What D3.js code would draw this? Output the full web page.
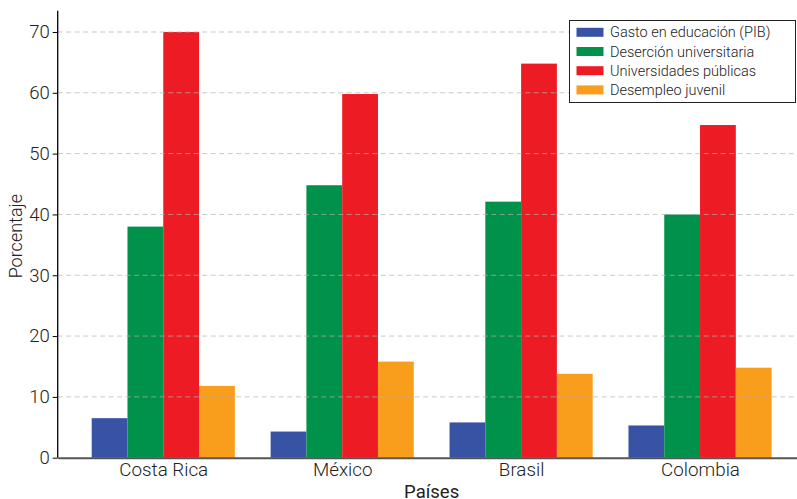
<!DOCTYPE html>
<html>
<head>
<meta charset="utf-8">
<script src="https://cdn.jsdelivr.net/npm/d3@7"></script>
<style>
  html, body { margin: 0; padding: 0; background: #fff; }
  svg { display: block; font-family: Roboto, "Noto Sans", sans-serif; }
</style>
</head>
<body>
<svg id="chart" width="797" height="499"></svg>
<script>
// Indicadores educativos por país (porcentaje)
const countries = ["Costa Rica", "México", "Brasil", "Colombia"];
const seriesNames = ["Gasto en educación (PIB)", "Deserción universitaria", "Universidades públicas", "Desempleo juvenil"];
const gasto = [6.5, 4.3, 5.8, 5.3];
const desercion = [38, 44.8, 42.1, 40];
const publicas = [70, 59.8, 64.8, 54.7];
const desempleo = [11.8, 15.8, 13.8, 14.8];
const seriesColors = ["#3953a4", "#00914a", "#ed1c24", "#f99d1c"];
const yTicks = [0, 10, 20, 30, 40, 50, 60, 70];

const series = [gasto, desercion, publicas, desempleo];

const svg = d3.select("#chart");
const margin = { left: 57.7, top: 10.7, bottom: 41.3 };
const plotRight = 805.6;
const plotBottom = 499 - margin.bottom;

// Numeric x axis: groups at 0..3, bar width 0.2, with a 5% side margin
const x = d3.scaleLinear().domain([-0.59, 3.59]).range([margin.left, plotRight]);
const barW = 0.2;
const y = d3.scaleLinear().domain([0, 73.5]).range([plotBottom, margin.top]);

// Bars
series.forEach((vals, si) => {
  svg.append("g")
    .selectAll("rect")
    .data(vals)
    .join("rect")
    .attr("x", (d, i) => x(i + (si - 1.5) * barW - barW / 2))
    .attr("width", x(barW) - x(0))
    .attr("y", d => y(d))
    .attr("height", d => y(0) - y(d))
    .attr("fill", seriesColors[si]);
});

// Horizontal dashed grid, drawn over the bars
svg.append("g")
  .selectAll("line")
  .data(yTicks.filter(t => t > 0))
  .join("line")
  .attr("x1", margin.left)
  .attr("x2", plotRight)
  .attr("y1", d => y(d))
  .attr("y2", d => y(d))
  .attr("stroke", "#b0b0b0")
  .attr("stroke-opacity", 0.7)
  .attr("stroke-width", 1)
  .attr("stroke-dasharray", "5,3.5");

// Y axis
const yAxis = d3.axisLeft(y).tickValues(yTicks).tickSize(5).tickPadding(3).tickFormat(d3.format("d"));
const gy = svg.append("g").attr("transform", `translate(${margin.left},0)`).call(yAxis);
gy.select(".domain").attr("stroke", "#000").attr("stroke-width", 1.3)
  .attr("d", `M0,${y(0)}V${margin.top}`);
gy.selectAll(".tick line").attr("stroke", "#000").attr("stroke-width", 1);
gy.selectAll(".tick text")
  .attr("font-size", 18.5).attr("font-weight", 300).attr("fill", "#222")
  .attr("font-family", "Roboto, sans-serif");

// X axis
const xAxis = d3.axisBottom(x).tickValues(d3.range(countries.length)).tickSize(0).tickPadding(5)
  .tickFormat(i => countries[i]);
const gx = svg.append("g").attr("transform", `translate(0,${plotBottom})`).call(xAxis);
gx.select(".domain").attr("stroke", "#555").attr("stroke-width", 2);
gx.selectAll(".tick text")
  .attr("font-size", 18.8).attr("font-weight", 300).attr("fill", "#222")
  .attr("font-family", "Roboto, sans-serif");

// Axis titles
svg.append("text")
  .attr("x", x(1.5)).attr("y", 497.5)
  .attr("text-anchor", "middle")
  .attr("font-size", 18.5).attr("font-weight", 400).attr("fill", "#222")
  .text("Países");

svg.append("text")
  .attr("transform", `translate(22,${(margin.top + plotBottom) / 2 + 2}) rotate(-90)`)
  .attr("text-anchor", "middle")
  .attr("font-size", 18).attr("font-weight", 300).attr("fill", "#222")
  .text("Porcentaje");

// Legend
const legend = svg.append("g").attr("transform", "translate(569.5,20.5)");
legend.append("rect")
  .attr("width", 226).attr("height", 82)
  .attr("fill", "#fff").attr("stroke", "#222").attr("stroke-width", 1);
seriesNames.forEach((name, i) => {
  const row = legend.append("g").attr("transform", `translate(0,${11.8 + i * 19.2})`);
  row.append("rect")
    .attr("x", 7).attr("y", -4.5).attr("width", 27).attr("height", 9)
    .attr("fill", seriesColors[i]);
  row.append("text")
    .attr("x", 40.5).attr("y", 0).attr("dy", "0.35em")
    .attr("font-size", 14.5).attr("font-weight", 300).attr("fill", "#222")
    .text(name);
});
</script>
</body>
</html>
